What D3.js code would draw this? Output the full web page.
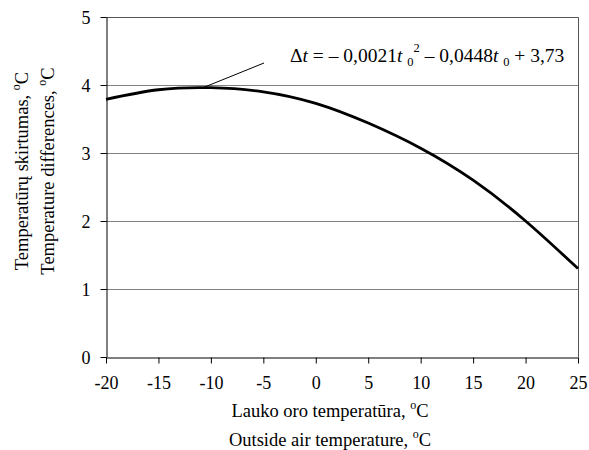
<!DOCTYPE html>
<html>
<head>
<meta charset="utf-8">
<script src="https://cdn.jsdelivr.net/npm/d3@7"></script>
<style>
  body { margin: 0; background: #fff; }
  svg text { font-family: "Liberation Serif", "Times New Roman", "DejaVu Serif", serif !important; fill: #000; }
</style>
</head>
<body>
<div id="chart"></div>
<script>
// data
const outsideTemp = [-20, -15, -10, -5, 0, 5, 10, 15, 20, 25];
const tempDiff = [3.79, 3.93, 3.96, 3.90, 3.73, 3.44, 3.07, 2.60, 2.00, 1.30];
const xTicks = [-20, -15, -10, -5, 0, 5, 10, 15, 20, 25];
const yTicks = [0, 1, 2, 3, 4, 5];

const width = 589, height = 450;
const margin = {top: 17, right: 11, bottom: 93, left: 106};

const svg = d3.select("#chart").append("svg")
    .attr("width", width)
    .attr("height", height);

const x = d3.scaleLinear().domain([-20, 25]).range([margin.left, width - margin.right]);
const y = d3.scaleLinear().domain([0, 5]).range([height - margin.bottom, margin.top]);

// gridlines
svg.append("g")
    .selectAll("line")
    .data(yTicks.filter(d => d > 0))
    .join("line")
    .attr("x1", x(-20)).attr("x2", x(25))
    .attr("y1", d => y(d) + 0.5).attr("y2", d => y(d) + 0.5)
    .attr("stroke", "#808080");

// frame top / right
svg.append("path")
    .attr("d", `M${x(-20)},${y(5) + 0.5}H${x(25) + 0.5}V${y(0)}`)
    .attr("fill", "none")
    .attr("stroke", "#555");

// axes
const fmt = d => String(d); // plain hyphen minus, no decimals
const xAxis = svg.append("g")
    .attr("transform", `translate(0,${y(0) + 0.5})`)
    .call(d3.axisBottom(x).tickValues(xTicks).tickFormat(fmt)
        .tickSize(6).tickPadding(13).tickSizeOuter(0));
const yAxis = svg.append("g")
    .attr("transform", `translate(${x(-20) + 0.5},0)`)
    .call(d3.axisLeft(y).tickValues(yTicks).tickFormat(fmt)
        .tickSize(6).tickPadding(10).tickSizeOuter(0));

[xAxis, yAxis].forEach(g => {
    g.attr("font-family", null);
    g.select(".domain").attr("stroke", "#000");
    g.selectAll(".tick line").attr("stroke", "#000");
    g.selectAll(".tick text")
        .attr("font-size", 18)
        .attr("fill", "#000");
});
yAxis.selectAll(".tick text").attr("dy", "0.34em");

// curve
const line = d3.line()
    .x((d, i) => x(outsideTemp[i]))
    .y(d => y(d))
    .curve(d3.curveNatural);

svg.append("path")
    .datum(tempDiff)
    .attr("d", line)
    .attr("fill", "none")
    .attr("stroke", "#000")
    .attr("stroke-width", 2.8);

// equation label + leader
svg.append("line")
    .attr("x1", 264).attr("y1", 63)
    .attr("x2", x(-10.6)).attr("y2", y(3.97))
    .attr("stroke", "#000");

const eq = svg.append("text")
    .attr("x", 290).attr("y", 62)
    .attr("font-size", 19.5);
eq.append("tspan").text("\u0394");
eq.append("tspan").attr("font-style", "italic").text("t ");
eq.append("tspan").text("= \u2013 0,0021");
eq.append("tspan").attr("font-style", "italic").text("t ");
eq.append("tspan").attr("font-size", 12.5).attr("dy", 4).text("0");
eq.append("tspan").attr("font-size", 12.5).attr("dy", -14).text("2");
eq.append("tspan").attr("dy", 10).text(" \u2013 0,0448");
eq.append("tspan").attr("font-style", "italic").text("t ");
eq.append("tspan").attr("font-size", 12.5).attr("dy", 4).text("0");
eq.append("tspan").attr("dy", -4).text(" + 3,73");

// axis titles
function degTitle(sel, label) {
    sel.append("tspan").text(label);
    sel.append("tspan").attr("font-size", 12).attr("dy", -8).text("o");
    sel.append("tspan").attr("dy", 8).text("C");
}

const xt1 = svg.append("text")
    .attr("x", 330).attr("y", 417)
    .attr("text-anchor", "middle")
    .attr("font-size", 18.5);
degTitle(xt1, "Lauko oro temperatūra, ");

const xt2 = svg.append("text")
    .attr("x", 330).attr("y", 446)
    .attr("text-anchor", "middle")
    .attr("font-size", 18.5);
degTitle(xt2, "Outside air temperature, ");

const yt1 = svg.append("text")
    .attr("transform", "translate(28,171) rotate(-90)")
    .attr("text-anchor", "middle")
    .attr("font-size", 18.5);
degTitle(yt1, "Temperatūrų skirtumas, ");

const yt2 = svg.append("text")
    .attr("transform", "translate(54,171) rotate(-90)")
    .attr("text-anchor", "middle")
    .attr("font-size", 18.5);
degTitle(yt2, "Temperature differences, ");
</script>
</body>
</html>
